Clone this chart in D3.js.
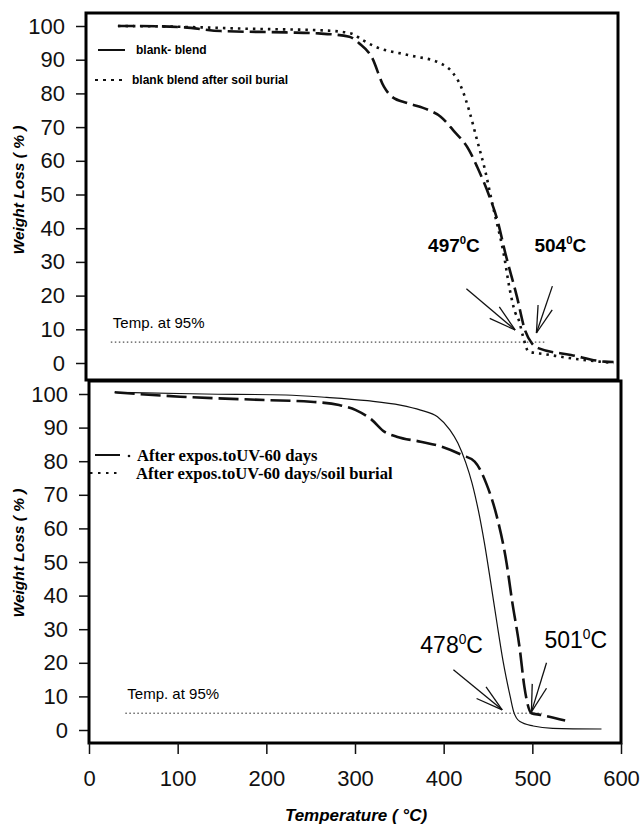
<!DOCTYPE html>
<html>
<head>
<meta charset="utf-8">
<script src="https://cdn.jsdelivr.net/npm/d3@7/dist/d3.min.js"></script>
<style>
body { margin: 0; background: #fff; }
svg { display: block; }
</style>
</head>
<body>
<div id="chart"></div>
<script>
// top panel - blank blend (dashed curve)
const blendTemp   = [36, 60, 111, 152, 226, 262, 297, 308, 322, 336, 345, 363, 386, 400, 414, 432, 441, 455, 464, 473, 486, 495, 503, 510, 547, 585, 595];
const blendWeight = [100, 100, 99.6, 98.5, 98.1, 97.8, 96.8, 94.9, 90.9, 82, 79, 77.1, 75.1, 73.1, 69.1, 63.2, 58.3, 49.4, 42.4, 32.5, 19.7, 9.8, 5.8, 4.4, 2.4, 0.4, 0.3];

// top panel - blank blend after soil burial (dotted curve)
const soilTemp   = [36, 100, 180, 267, 299, 312, 326, 363, 400, 414, 423, 432, 441, 450, 459, 471, 478, 484, 488, 493, 499, 518, 555, 595];
const soilWeight = [100, 99.8, 99.2, 98.7, 97.8, 95.8, 93.9, 91.4, 88.9, 86, 82, 75, 66.2, 57.3, 46.4, 32.5, 21.7, 15, 12.8, 7.8, 3.4, 2.6, 1.1, 0];

// bottom panel - after UV 60 days (dashed curve)
const uvTemp   = [29, 103, 199, 250, 282, 301, 319, 333, 347, 374, 398, 421, 435, 448, 460, 471, 477, 486, 491, 499, 509, 537];
const uvWeight = [100.5, 99.2, 98.2, 97.7, 96.7, 95.2, 92.3, 88.8, 87.3, 85.8, 84.3, 81.8, 79.9, 73.4, 63.5, 49.6, 38.7, 23.8, 12.9, 5, 4.5, 2.8];

// bottom panel - after UV 60 days / soil burial (thin curve)
const uvSoilTemp   = [29, 130, 222, 268, 314, 351, 374, 393, 407, 416, 425, 432, 439, 446, 453, 460, 467, 475, 479, 486, 501, 523, 578];
const uvSoilWeight = [100.5, 100, 99.7, 99, 98, 96.7, 95.2, 93.2, 89.3, 85.4, 79.5, 73.5, 65.5, 55.6, 44, 32, 20.5, 10, 5.4, 2.5, 1.2, 0.5, 0.3];

const xTicks = [0, 100, 200, 300, 400, 500, 600];
const yTicks = [0, 10, 20, 30, 40, 50, 60, 70, 80, 90, 100];

const topLegend = ["blank- blend", "blank blend after soil burial"];
const bottomLegend = ["After expos.toUV-60 days", "After expos.toUV-60 days/soil burial"];

// 95% line: [level, from, to] for each panel
const topLevel = [6.2, 28, 517];
const bottomLevel = [5, 41, 511];

// temperature notes: label, arrow tip, arrow tail, label anchor (data units)
const topNotes = [
    { label: "497", tip: [484, 9.8], tail: [429, 22], at: [415, 35] },
    { label: "504", tip: [508, 8.9], tail: [526, 22.8], at: [535, 35] }
];
const bottomNotes = [
    { label: "478", tip: [466, 6], tail: [411, 17.9], at: [409, 25.3] },
    { label: "501", tip: [499, 5.4], tail: [516, 20], at: [549, 26.8] }
];

const width = 642;
const height = 828;
const sans = "Arial, 'Liberation Sans', sans-serif";
const serif = "'Times New Roman', 'Liberation Serif', serif";

const svg = d3.select("#chart")
    .append("svg")
    .attr("width", width)
    .attr("height", height);

svg.append("rect").attr("width", width).attr("height", height).attr("fill", "#fff");

function drawPanel(p) {
    const x = d3.scaleLinear().domain([0, 600]).range([p.left, p.right]);
    const y = d3.scaleLinear().domain([0, 100]).range([p.y0, p.y100]);
    const g = svg.append("g");

    // y axis ticks + labels
    const yAxis = d3.axisLeft(y).tickValues(yTicks).tickSize(10).tickPadding(11);
    const ya = g.append("g").attr("transform", `translate(${p.left},0)`).call(yAxis);
    ya.select(".domain").remove();
    ya.selectAll("line").attr("stroke", "#111").attr("stroke-width", 1.5);
    ya.selectAll("text").attr("font-family", sans).attr("font-size", 22).attr("fill", "#111");

    // y title
    g.append("text")
        .attr("transform", `translate(19,${p.titleY}) rotate(-90)`)
        .attr("text-anchor", "middle")
        .attr("dy", "0.35em")
        .attr("font-family", sans)
        .attr("font-size", 15.5)
        .attr("font-weight", "bold")
        .attr("font-style", "italic")
        .text("Weight Loss ( % )");

    // the curves
    const line = d3.line().x(d => x(d[0])).y(d => y(d[1])).curve(d3.curveMonotoneX);
    p.series.forEach(s => {
        g.append("path")
            .datum(d3.zip(s.temp, s.weight))
            .attr("d", line)
            .attr("fill", "none")
            .attr("stroke", "#111")
            .attr("stroke-width", s.width)
            .attr("stroke-dasharray", s.dash);
    });

    // temp at 95% dotted line
    g.append("line")
        .attr("x1", x(p.level[1])).attr("x2", x(p.level[2]))
        .attr("y1", y(p.level[0])).attr("y2", y(p.level[0]))
        .attr("stroke", "#222").attr("stroke-width", 1)
        .attr("stroke-dasharray", "1.5,2.5");
    g.append("text")
        .attr("x", x(p.level[1]) + 2).attr("y", y(p.level[0]) - 19)
        .attr("dy", "0.35em")
        .attr("font-family", sans).attr("font-size", 15)
        .text("Temp. at 95%");

    // arrows + temperature labels
    p.notes.forEach(n => {
        const tx = x(n.tip[0]), ty = y(n.tip[1]);
        const sx = x(n.tail[0]), sy = y(n.tail[1]);
        const ang = Math.atan2(sy - ty, sx - tx);
        g.append("line").attr("x1", sx).attr("y1", sy).attr("x2", tx).attr("y2", ty)
            .attr("stroke", "#111").attr("stroke-width", 1.3);
        [-0.27, 0.27].forEach(da => {
            g.append("line")
                .attr("x1", tx).attr("y1", ty)
                .attr("x2", tx + 28 * Math.cos(ang + da))
                .attr("y2", ty + 28 * Math.sin(ang + da))
                .attr("stroke", "#111").attr("stroke-width", 1.3);
        });
        const t = g.append("text")
            .attr("x", x(n.at[0])).attr("y", y(n.at[1]))
            .attr("dy", "0.35em")
            .attr("text-anchor", "middle")
            .attr("font-family", sans)
            .attr("font-size", p.noteSize)
            .attr("font-weight", p.noteWeight);
        t.append("tspan").text(n.label);
        t.append("tspan").attr("font-size", p.noteSize * 0.6).attr("dy", -p.noteSize * 0.4).text("0");
        t.append("tspan").attr("dy", p.noteSize * 0.4).text("C");
    });

    // legend
    p.legend.forEach((label, i) => {
        const ly = p.legendY[i];
        const sample = p.samples[i];
        g.append("line")
            .attr("x1", sample[0]).attr("x2", sample[1])
            .attr("y1", ly).attr("y2", ly)
            .attr("stroke", "#111").attr("stroke-width", 2)
            .attr("stroke-dasharray", sample[2]);
        if (sample[3]) {
            g.append("circle").attr("cx", sample[3]).attr("cy", ly + 1).attr("r", 1.3).attr("fill", "#111");
        }
        g.append("text")
            .attr("x", p.legendX[i]).attr("y", ly)
            .attr("dy", "0.35em")
            .attr("font-family", p.legendFont)
            .attr("font-size", p.legendSize)
            .attr("font-weight", "bold")
            .text(label);
    });

    // frame
    g.append("rect")
        .attr("x", p.left).attr("y", p.top)
        .attr("width", p.right - p.left).attr("height", p.bottom - p.top)
        .attr("fill", "none").attr("stroke", "#000").attr("stroke-width", 3);

    return x;
}

drawPanel({
    left: 86, right: 618, top: 13, bottom: 380, y0: 363, y100: 26, titleY: 190,
    series: [
        { temp: blendTemp, weight: blendWeight, width: 2.6, dash: "16,6" },
        { temp: soilTemp, weight: soilWeight, width: 2.6, dash: "2.5,5" }
    ],
    level: topLevel, notes: topNotes, noteSize: 19, noteWeight: "bold",
    legend: topLegend, legendY: [50, 80], legendX: [136, 132],
    samples: [[98, 125, null, null], [95, 122, "3,5", null]],
    legendFont: sans, legendSize: 12
});

const xb = drawPanel({
    left: 89, right: 621, top: 381, bottom: 743, y0: 730, y100: 394, titleY: 553,
    series: [
        { temp: uvTemp, weight: uvWeight, width: 2.6, dash: "20,6" },
        { temp: uvSoilTemp, weight: uvSoilWeight, width: 1.2, dash: null }
    ],
    level: bottomLevel, notes: bottomNotes, noteSize: 23, noteWeight: "normal",
    legend: bottomLegend, legendY: [455, 473], legendX: [137, 136],
    samples: [[95, 120, null, 129], [90, 122, "2.5,5.5", null]],
    legendFont: serif, legendSize: 16.6
});

// x axis under the bottom panel
const xAxis = d3.axisBottom(xb).tickValues(xTicks).tickSize(11).tickPadding(16);
const xa = svg.append("g").attr("transform", "translate(0,743)").call(xAxis);
xa.select(".domain").remove();
xa.selectAll("line").attr("stroke", "#111").attr("stroke-width", 1.5);
xa.selectAll("text").attr("font-family", sans).attr("font-size", 22).attr("fill", "#111");

svg.append("text")
    .attr("x", 356).attr("y", 815)
    .attr("dy", "0.35em")
    .attr("text-anchor", "middle")
    .attr("font-family", sans)
    .attr("font-size", 17)
    .attr("font-weight", "bold")
    .attr("font-style", "italic")
    .text("Temperature ( °C)");
</script>
</body>
</html>
